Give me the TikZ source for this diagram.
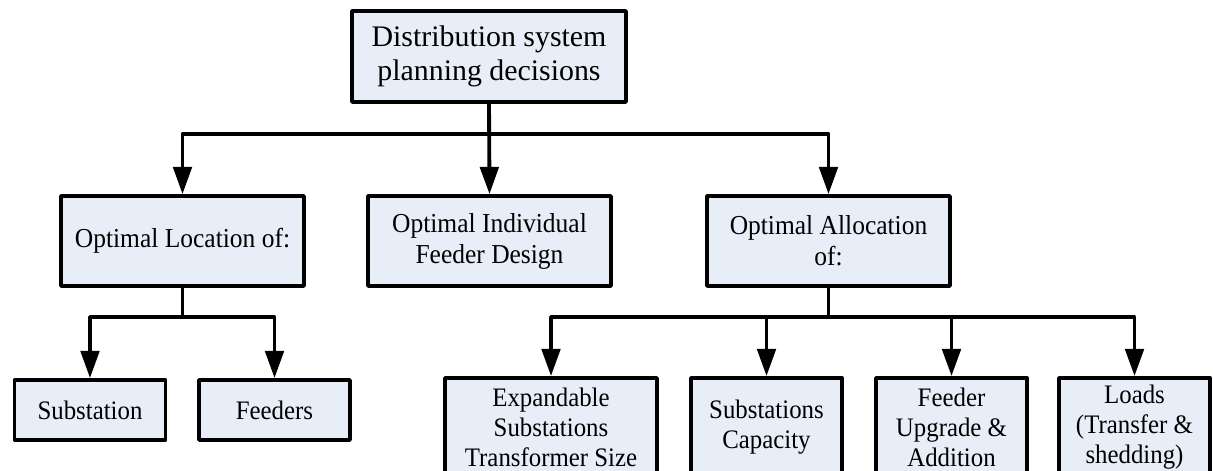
\documentclass[tikz,border=0pt]{standalone}
\usepackage{fontspec}
\setmainfont{Liberation Serif}
\newfontfamily\lowfont[FakeStretch=0.93]{Liberation Serif}
\usepackage{xcolor}
\usetikzlibrary{arrows.meta}
\definecolor{boxfill}{RGB}{232,238,247}

\begin{document}
\begin{tikzpicture}[x=0.02cm, y=0.02cm,
  box/.style={draw, line width=2.2pt, fill=boxfill, inner sep=0pt, align=center, line join=round},
  link/.style={line width=2.2pt, line join=round},
  arr/.style={link, -{Triangle[length=15.5pt, width=10.5pt]}}]
\useasboundingbox (0,0) rectangle (1213,470);
\clip (0,0) rectangle (1213,470);
% top level
\node[box, minimum width=5.48cm, minimum height=1.82cm, font=\fontsize{17}{19.5}\selectfont] (top) at (489,413.5) {Distribution system\\planning decisions};
% second level
\begin{scope}[every node/.style={box, minimum width=4.86cm, minimum height=1.8cm, font=\lowfont\fontsize{15.6}{17.6}\selectfont}]
\node (loc) at (182.5,229) {Optimal Location of:};
\node (ind) at (489.5,229) {Optimal Individual\\Feeder Design};
\node (alloc) at (828.5,229) {Optimal Allocation\\of:};
\end{scope}
% third level
\begin{scope}[every node/.style={box, minimum width=3.02cm, font=\lowfont\fontsize{15.2}{17}\selectfont}]
\node[minimum height=1.2cm] (sub) at (90,60) {Substation};
\node[minimum height=1.2cm] (fdr) at (274.5,60) {Feeders};
\node[minimum height=1.96cm, minimum width=4.24cm] (exp) at (551,43) {Expandable\\Substations\\Transformer Size};
\node[minimum height=1.96cm] (cap) at (766.5,43) {Substations\\Capacity};
\node[minimum height=1.96cm] (upg) at (951.5,43) {Feeder\\Upgrade \&\\Addition};
\node[minimum height=1.96cm] (lds) at (1134.5,43) {Loads\\(Transfer \&\\shedding)};
\end{scope}
% connectors
\coordinate (bar) at (top.south |- 0,336);
\coordinate (lbar) at (loc.south |- 0,153);
\coordinate (rbar) at (alloc.south |- 0,153);
\draw[arr] (top.south) -- (ind.north);
\foreach \n in {loc,alloc}
 \draw[arr] (bar) -| (\n.north);
\draw[link] (loc.south) -- (lbar);
\draw[link] (alloc.south) -- (rbar);
\foreach \n in {sub,fdr}
 \draw[arr] (lbar) -| (\n.north);
\foreach \n in {exp,cap,upg,lds}
 \draw[arr] (rbar) -| (\n.north);
\end{tikzpicture}
\end{document}
